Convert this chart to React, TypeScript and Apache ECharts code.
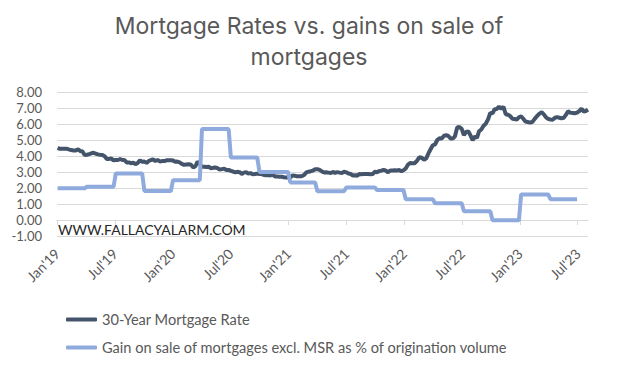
import React, { useEffect, useRef } from "react";
import * as echarts from "echarts";

// Weekly 30-year mortgage rate, first observation Thursday 2019-01-03
const rateStart = "2019-01-03";
const rate2019 = [4.51, 4.45, 4.45, 4.45, 4.46, 4.41, 4.37, 4.35, 4.35, 4.41, 4.31, 4.28, 4.06, 4.08, 4.12, 4.17, 4.2, 4.14, 4.1, 4.07, 4.06, 3.99, 3.82, 3.82, 3.84, 3.73, 3.75, 3.75, 3.81, 3.75, 3.75, 3.6, 3.6, 3.55, 3.58, 3.49, 3.56, 3.73, 3.64, 3.65, 3.57, 3.69, 3.75, 3.78, 3.69, 3.75, 3.66, 3.68, 3.68, 3.73, 3.73, 3.74];
const rate2020 = [3.72, 3.64, 3.65, 3.6, 3.51, 3.45, 3.47, 3.49, 3.45, 3.29, 3.36, 3.65, 3.5, 3.33, 3.33, 3.31, 3.33, 3.23, 3.26, 3.28, 3.24, 3.15, 3.18, 3.21, 3.13, 3.13, 3.07, 3.03, 2.98, 3.01, 2.99, 2.88, 2.96, 2.99, 2.91, 2.93, 2.86, 2.87, 2.9, 2.88, 2.87, 2.81, 2.8, 2.81, 2.78, 2.84, 2.72, 2.72, 2.71, 2.71, 2.67, 2.66, 2.67];
const rate2021 = [2.65, 2.79, 2.77, 2.73, 2.73, 2.73, 2.81, 2.97, 3.02, 3.05, 3.09, 3.17, 3.18, 3.13, 3.04, 2.97, 2.98, 2.96, 2.94, 3.0, 2.95, 2.99, 2.96, 2.93, 3.02, 2.98, 2.9, 2.88, 2.78, 2.8, 2.77, 2.87, 2.86, 2.87, 2.87, 2.88, 2.86, 2.88, 3.01, 2.99, 3.05, 3.09, 3.14, 3.09, 2.98, 3.1, 3.1, 3.11, 3.1, 3.12, 3.05, 3.11];
const rate2022 = [3.22, 3.45, 3.56, 3.55, 3.55, 3.69, 3.92, 3.89, 3.76, 3.85, 4.16, 4.42, 4.67, 4.72, 5.0, 5.11, 5.1, 5.27, 5.3, 5.25, 5.1, 5.09, 5.23, 5.78, 5.81, 5.7, 5.3, 5.51, 5.54, 5.3, 4.99, 5.22, 5.13, 5.55, 5.66, 5.89, 6.02, 6.29, 6.7, 6.66, 6.92, 6.94, 7.08, 6.95, 7.08, 6.61, 6.58, 6.49, 6.33, 6.31, 6.27, 6.42];
const rate2023 = [6.48, 6.33, 6.15, 6.13, 6.09, 6.12, 6.32, 6.5, 6.65, 6.73, 6.6, 6.42, 6.32, 6.28, 6.27, 6.39, 6.43, 6.39, 6.35, 6.39, 6.57, 6.79, 6.71, 6.69, 6.67, 6.71, 6.81, 6.96, 6.78, 6.81, 6.9];

// Quarterly gain on sale (excl. MSR) as % of origination volume, Q1 2019 .. Q2 2023
const gainQuarters = ["2019Q1", "2019Q2", "2019Q3", "2019Q4", "2020Q1", "2020Q2", "2020Q3", "2020Q4", "2021Q1", "2021Q2", "2021Q3", "2021Q4", "2022Q1", "2022Q2", "2022Q3", "2022Q4", "2023Q1", "2023Q2"];
const gainValues = [1.98, 2.08, 2.91, 1.81, 2.49, 5.68, 3.9, 3.0, 2.35, 1.8, 2.03, 1.87, 1.3, 1.05, 0.55, -0.02, 1.6, 1.3];

const tickLabels = ["Jan'19", "Jul'19", "Jan'20", "Jul'20", "Jan'21", "Jul'21", "Jan'22", "Jul'22", "Jan'23", "Jul'23"];

const seriesNames = ["30-Year Mortgage Rate", "Gain on sale of mortgages excl. MSR as % of origination volume"];
const titleText = "Mortgage Rates vs. gains on sale of\nmortgages";

function monthIndex(d: Date): number {
  const y = d.getUTCFullYear();
  const m = d.getUTCMonth();
  const dim = new Date(Date.UTC(y, m + 1, 0)).getUTCDate();
  return (y - 2019) * 12 + m + (d.getUTCDate() - 1) / dim;
}

export default function App() {
  const ref = useRef<HTMLDivElement>(null);
  useEffect(() => {
    if (!ref.current) return;
    const chart = echarts.init(ref.current, undefined, { renderer: "svg" });
    const rates = [...rate2019, ...rate2020, ...rate2021, ...rate2022, ...rate2023];
    const start = new Date(rateStart + "T00:00:00Z").getTime();
    const dates = rates.map((_, i) => new Date(start + i * 7 * 86400000));
    const rateData = rates.map((v, i) => [monthIndex(dates[i]), v]);
    const gainData: number[][] = [];
    dates.forEach((d) => {
      const q = (d.getUTCFullYear() - 2019) * 4 + Math.floor(d.getUTCMonth() / 3);
      if (q < gainValues.length && gainQuarters[q]) gainData.push([monthIndex(d), gainValues[q]]);
    });
    const xMax = rateData[rateData.length - 1][0];
    const tickVals = tickLabels.map((_, i) => i * 6);
    const font = "Lato";
    chart.setOption({
      animation: false,
      title: {
        text: titleText,
        left: "center",
        top: 10,
        padding: 0,
        textStyle: { fontFamily: "Inter", fontSize: 23, fontWeight: "normal", color: "#595959", lineHeight: 31 },
      },
      grid: { left: 57, right: 30, top: 92, bottom: 131, containLabel: false, outerBoundsMode: "none" },
      legend: {
        orient: "vertical",
        left: 61,
        top: 307,
        itemWidth: 31,
        itemHeight: 4,
        itemGap: 13,
        icon: "roundRect",
        textStyle: { fontFamily: font, fontSize: 14.6, color: "#595959" },
        data: seriesNames,
      },
      xAxis: {
        type: "value",
        min: 0,
        max: xMax,
        interval: 6,
        axisLine: { show: true, onZero: true, lineStyle: { color: "#d9d9d9", width: 1 } },
        axisTick: { show: true, length: 5, customValues: tickVals, lineStyle: { color: "#d9d9d9" } },
        axisLabel: {
          customValues: tickVals,
          rotate: 45,
          margin: 15,
          fontFamily: font,
          fontSize: 14,
          color: "#595959",
          formatter: (v: number) => tickLabels[Math.round(v / 6)] ?? "",
        },
        splitLine: { show: false },
      },
      yAxis: {
        type: "value",
        min: -1,
        max: 8,
        interval: 1,
        axisLine: { show: false },
        axisTick: { show: false },
        axisLabel: { fontFamily: font, fontSize: 13, lineHeight: 13, color: "#595959", margin: 15, formatter: (v: number) => v.toFixed(2) },
        splitLine: { lineStyle: { color: "#d9d9d9", width: 1 } },
      },
      graphic: [
        {
          type: "text",
          left: 58,
          top: 222,
          style: { text: "WWW.FALLACYALARM.COM", font: "14px Lato", fill: "#262626" },
        },
      ],
      series: [
        {
          name: seriesNames[0],
          type: "line",
          data: rateData,
          showSymbol: false,
          symbol: "none",
          lineStyle: { color: "#44546A", width: 4 },
          itemStyle: { color: "#44546A" },
        },
        {
          name: seriesNames[1],
          type: "line",
          data: gainData,
          showSymbol: false,
          symbol: "none",
          lineStyle: { color: "#8FAADC", width: 4 },
          itemStyle: { color: "#8FAADC" },
        },
      ],
    });
    return () => chart.dispose();
  }, []);
  return <div ref={ref} style={{ width: 618, height: 367, position: "absolute", left: 0, top: 0 }} />;
}
